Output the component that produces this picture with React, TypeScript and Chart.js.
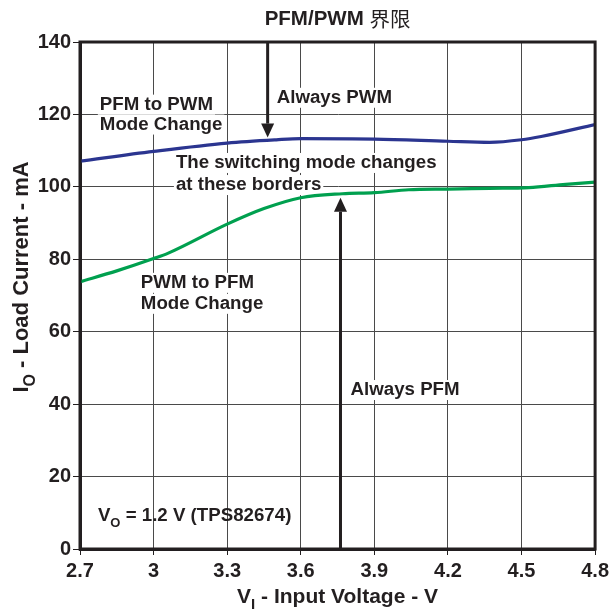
import React, { useEffect, useRef } from "react";
import { Chart, registerables } from "chart.js";

Chart.register(...registerables);

// ---- data ----
const xTicks = [2.7, 3.0, 3.3, 3.6, 3.9, 4.2, 4.5, 4.8];
const yTicks = [0, 20, 40, 60, 80, 100, 120, 140];

const pfmToPwmVoltage = [2.7, 3.0, 3.3, 3.5, 3.6, 3.9, 4.2, 4.37, 4.5, 4.58, 4.8];
const pfmToPwmCurrent = [107.1, 109.8, 112.1, 113.0, 113.3, 113.2, 112.6, 112.3, 113.0, 113.9, 117.2];

const pwmToPfmVoltage = [2.7, 2.85, 3.0, 3.06, 3.3, 3.45, 3.6, 3.77, 3.9, 4.04, 4.2, 4.37, 4.53, 4.68, 4.8];
const pwmToPfmCurrent = [73.8, 76.8, 80.2, 81.7, 89.7, 94.0, 97.0, 98.1, 98.4, 99.2, 99.4, 99.6, 99.8, 100.7, 101.3];

const labelTexts = [
  "PFM to PWM",
  "Mode Change",
  "Always PWM",
  "The switching mode changes",
  "at these borders",
  "PWM to PFM",
  "Mode Change",
  "Always PFM",
];
const labelX = [2.781, 2.781, 3.502, 3.091, 3.091, 2.948, 2.948, 3.803];
const labelY = [122.7, 117.2, 124.6, 106.6, 100.5, 73.5, 67.7, 43.9];

const noteMain = [" = 1.2 V (TPS82674)"];
const noteX = [2.773];
const noteY = [9.1];

const arrowX = [3.465, 3.762];
const arrowFrom = [140, 0];
const arrowTo = [113.6, 97.0];

const chartTitle = ["PFM/PWM ", "界限"];
const xTitle = ["V", "I", " - Input Voltage - V"];
const yTitle = ["I", "O", " - Load Current - mA"];

const INK = "#231f20";
const FONT = "'Liberation Sans', Arial, sans-serif";
const CJK = "'Noto Sans CJK SC', 'Liberation Sans', sans-serif";

type Part = { t: string; sub?: boolean; font?: string; weight?: string };

function drawRich(ctx: CanvasRenderingContext2D, parts: Part[], x: number, y: number, size: number, align: "left" | "center") {
  const subSize = Math.round(size * 0.72);
  const fontOf = (p: Part) => `${p.weight || "bold"} ${p.sub ? subSize : size}px ${p.font || FONT}`;
  let total = 0;
  const widths: number[] = [];
  for (const p of parts) {
    ctx.font = fontOf(p);
    const w = ctx.measureText(p.t).width;
    widths.push(w);
    total += w;
  }
  let cx = align === "center" ? x - total / 2 : x;
  ctx.textAlign = "left";
  ctx.textBaseline = "middle";
  parts.forEach((p, i) => {
    ctx.font = fontOf(p);
    ctx.fillText(p.t, cx, p.sub ? y + size * 0.38 : y);
    cx += widths[i];
  });
  return total;
}

const LABEL_SIZE = 18.7;

const overlayPlugin = {
  id: "overlay",
  beforeDatasetsDraw(chart: any) {
    const ctx = chart.ctx as CanvasRenderingContext2D;
    const xs = chart.scales.x;
    const ys = chart.scales.y;
    ctx.save();
    ctx.font = `bold ${LABEL_SIZE}px ${FONT}`;
    ctx.textBaseline = "middle";
    ctx.textAlign = "left";
    labelTexts.forEach((t, i) => {
      const px = xs.getPixelForValue(labelX[i]);
      const py = ys.getPixelForValue(labelY[i]);
      const w = ctx.measureText(t).width;
      ctx.fillStyle = "#ffffff";
      ctx.fillRect(px - 2, py - 10, w + 4, 20);
    });
    ctx.fillStyle = INK;
    labelTexts.forEach((t, i) => {
      const px = xs.getPixelForValue(labelX[i]);
      const py = ys.getPixelForValue(labelY[i]);
      ctx.fillText(t, px, py);
    });
    // note
    ctx.fillStyle = INK;
    drawRich(
      ctx,
      [{ t: "V" }, { t: "O", sub: true }, { t: noteMain[0] }],
      xs.getPixelForValue(noteX[0]),
      ys.getPixelForValue(noteY[0]),
      LABEL_SIZE,
      "left"
    );
    ctx.restore();
  },
  afterDatasetsDraw(chart: any) {
    const ctx = chart.ctx as CanvasRenderingContext2D;
    const xs = chart.scales.x;
    const ys = chart.scales.y;
    const a = chart.chartArea;
    ctx.save();
    ctx.strokeStyle = INK;
    ctx.fillStyle = INK;
    ctx.lineWidth = 3;
    arrowX.forEach((xv, i) => {
      const px = xs.getPixelForValue(xv);
      const y0 = ys.getPixelForValue(arrowFrom[i]);
      const y1 = ys.getPixelForValue(arrowTo[i]);
      const dir = y1 > y0 ? 1 : -1;
      const head = 14;
      ctx.beginPath();
      ctx.moveTo(px, y0);
      ctx.lineTo(px, y1 - dir * head);
      ctx.stroke();
      ctx.beginPath();
      ctx.moveTo(px, y1);
      ctx.lineTo(px - 6.5, y1 - dir * head);
      ctx.lineTo(px + 6.5, y1 - dir * head);
      ctx.closePath();
      ctx.fill();
    });
    ctx.lineWidth = 3;
    ctx.strokeRect(a.left, a.top, a.right - a.left, a.bottom - a.top);
    ctx.restore();
  },
  afterDraw(chart: any) {
    const ctx = chart.ctx as CanvasRenderingContext2D;
    const a = chart.chartArea;
    ctx.save();
    ctx.fillStyle = INK;
    drawRich(
      ctx,
      [{ t: chartTitle[0] }, { t: chartTitle[1], font: CJK, weight: "normal" }],
      (a.left + a.right) / 2,
      19,
      20.5,
      "center"
    );
    drawRich(
      ctx,
      [{ t: xTitle[0] }, { t: xTitle[1], sub: true }, { t: xTitle[2] }],
      (a.left + a.right) / 2,
      597,
      21,
      "center"
    );
    ctx.translate(22, 277);
    ctx.rotate(-Math.PI / 2);
    drawRich(ctx, [{ t: yTitle[0] }, { t: yTitle[1], sub: true }, { t: yTitle[2] }], 0, 0, 22, "center");
    ctx.restore();
  },
};

export default function App() {
  const ref = useRef<HTMLCanvasElement | null>(null);
  useEffect(() => {
    document.body.style.margin = "0";
    if (!ref.current) return;
    const chart = new Chart(ref.current, {
      type: "line",
      data: {
        datasets: [
          {
            label: "PFM to PWM",
            data: pfmToPwmVoltage.map((v, i) => ({ x: v, y: pfmToPwmCurrent[i] })),
            borderColor: "#2b3590",
            borderWidth: 3.2,
            pointRadius: 0,
            cubicInterpolationMode: "monotone",
          },
          {
            label: "PWM to PFM",
            data: pwmToPfmVoltage.map((v, i) => ({ x: v, y: pwmToPfmCurrent[i] })),
            borderColor: "#00a04f",
            borderWidth: 3.2,
            pointRadius: 0,
            cubicInterpolationMode: "monotone",
          },
        ],
      },
      options: {
        animation: false,
        responsive: true,
        maintainAspectRatio: false,
        layout: { padding: { left: 0, right: 17, top: 42, bottom: 0 } },
        plugins: { legend: { display: false }, tooltip: { enabled: false }, title: { display: false } },
        scales: {
          x: {
            type: "linear",
            min: 2.7,
            max: 4.8,
            afterBuildTicks: (s: any) => {
              s.ticks = xTicks.map((v) => ({ value: v }));
            },
            afterFit: (s: any) => {
              s.height = 62;
            },
            grid: { color: "#4a4a4a", lineWidth: 1, tickLength: 6, tickColor: INK },
            border: { display: true, color: INK, width: 3 },
            ticks: {
              color: INK,
              padding: 4,
              maxRotation: 0,
              font: { family: FONT, size: 20, weight: "bold" },
              callback: (v: any) => String(Math.round(Number(v) * 10) / 10),
            },
          },
          y: {
            min: 0,
            max: 140,
            afterBuildTicks: (s: any) => {
              s.ticks = yTicks.map((v) => ({ value: v }));
            },
            afterFit: (s: any) => {
              s.width = 80;
            },
            grid: { color: "#4a4a4a", lineWidth: 1, tickLength: 7, tickColor: INK },
            border: { display: true, color: INK, width: 3 },
            ticks: {
              color: INK,
              padding: 2,
              font: { family: FONT, size: 20, weight: "bold" },
            },
          },
        },
      },
      plugins: [overlayPlugin],
    } as any);
    return () => chart.destroy();
  }, []);
  return (
    <div style={{ position: "absolute", left: 0, top: 0, width: 613, height: 611, background: "#fff" }}>
      <canvas ref={ref} />
    </div>
  );
}
